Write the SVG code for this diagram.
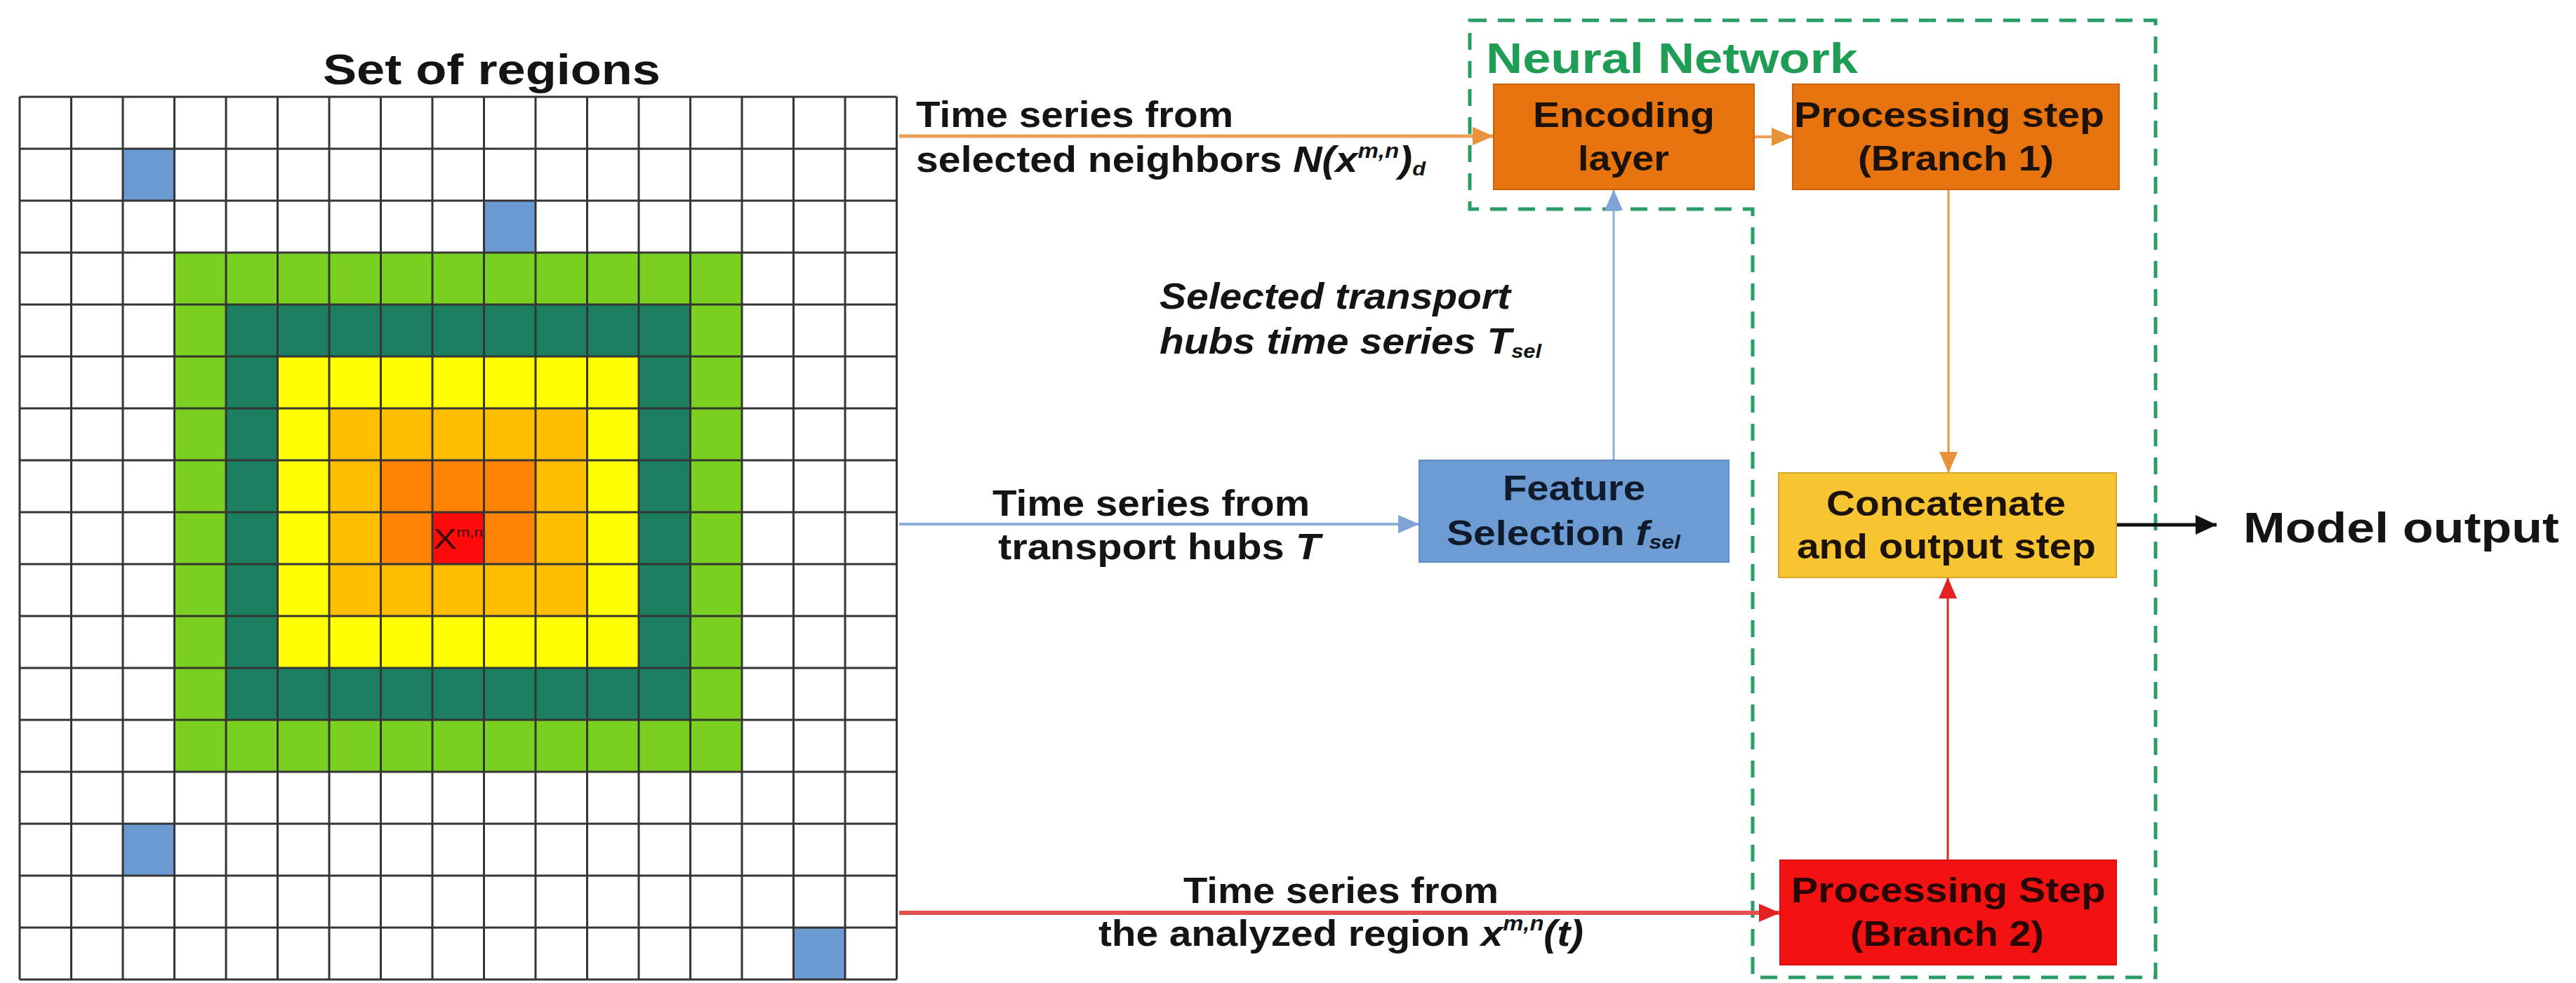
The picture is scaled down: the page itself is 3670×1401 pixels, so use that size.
<svg xmlns="http://www.w3.org/2000/svg" width="3670" height="1401" viewBox="0 0 3670 1401">
  <style>
    text { font-family: "Liberation Sans", Arial, sans-serif; font-weight: bold; fill: #141414; }
    .title { font-size: 62px; }
    .lbl { font-size: 52px; }
    .box-txt { font-size: 50px; fill: #1c1208; }
    .it { font-style: italic; }
    .sup { font-size: 30px; font-style: italic; }
    .sub { font-size: 28px; font-style: italic; }
    .cell-tag { font-size: 40px; font-weight: normal; fill: #3a0000; }
    .cell-tag-sup { font-size: 18px; }
    .cell-line { stroke: #353535; stroke-width: 3; fill: none; }
    .conn { fill: none; }
    .box { stroke-width: 2; }
  </style>
  <defs>
    <marker id="arrOrange" viewBox="0 0 30 26" refX="30" refY="13" markerWidth="30" markerHeight="26" markerUnits="userSpaceOnUse" orient="auto">
      <path d="M0,0 L30,13 L0,26 Z" fill="#E8923A"/>
    </marker>
    <marker id="arrBlue" viewBox="0 0 30 26" refX="30" refY="13" markerWidth="30" markerHeight="26" markerUnits="userSpaceOnUse" orient="auto">
      <path d="M0,0 L30,13 L0,26 Z" fill="#7FA3D6"/>
    </marker>
    <marker id="arrRed" viewBox="0 0 30 26" refX="30" refY="13" markerWidth="30" markerHeight="26" markerUnits="userSpaceOnUse" orient="auto">
      <path d="M0,0 L30,13 L0,26 Z" fill="#E52222"/>
    </marker>
    <marker id="arrBlack" viewBox="0 0 30 28" refX="30" refY="14" markerWidth="30" markerHeight="28" markerUnits="userSpaceOnUse" orient="auto">
      <path d="M0,0 L30,14 L0,28 Z" fill="#111111"/>
    </marker>
  </defs>

  <rect x="0" y="0" width="3670" height="1401" fill="#ffffff"/>

  <!-- 17 x 17 grid of regions with concentric neighbourhood rings -->
  <g id="set-of-regions">
    <text class="title" x="460" y="120" textLength="481" lengthAdjust="spacingAndGlyphs">Set of regions</text>
    <g id="rings">
      <rect x="248.5" y="360" width="808.5" height="740" fill="#7BD120"/>
      <rect x="322" y="434" width="661.5" height="592" fill="#1B7F5F"/>
      <rect x="395.5" y="508" width="514.5" height="444" fill="#FFFF00"/>
      <rect x="469" y="582" width="367.5" height="296" fill="#FFBE00"/>
      <rect x="542.5" y="656" width="220.5" height="148" fill="#FF8405"/>
      <rect x="616" y="730" width="73.5" height="74" fill="#FF0A0A"/>
    </g>
    <g id="transport-hubs" fill="#6C9BD3">
      <rect x="175" y="212" width="73.5" height="74"/>
      <rect x="689.5" y="286" width="73.5" height="74"/>
      <rect x="175" y="1174" width="73.5" height="74"/>
      <rect x="1130.5" y="1322" width="73.5" height="74"/>
    </g>
    <path class="cell-line" d="M28,138 V1396 M101.5,138 V1396 M175,138 V1396 M248.5,138 V1396 M322,138 V1396 M395.5,138 V1396 M469,138 V1396 M542.5,138 V1396 M616,138 V1396 M689.5,138 V1396 M763,138 V1396 M836.5,138 V1396 M910,138 V1396 M983.5,138 V1396 M1057,138 V1396 M1130.5,138 V1396 M1204,138 V1396 M1277.5,138 V1396"/>
    <path class="cell-line" d="M28,138 H1277.5 M28,212 H1277.5 M28,286 H1277.5 M28,360 H1277.5 M28,434 H1277.5 M28,508 H1277.5 M28,582 H1277.5 M28,656 H1277.5 M28,730 H1277.5 M28,804 H1277.5 M28,878 H1277.5 M28,952 H1277.5 M28,1026 H1277.5 M28,1100 H1277.5 M28,1174 H1277.5 M28,1248 H1277.5 M28,1322 H1277.5 M28,1396 H1277.5"/>
    <text class="cell-tag" x="617" y="782" textLength="71" lengthAdjust="spacingAndGlyphs">X<tspan class="cell-tag-sup" dy="-17">m,n</tspan></text>
  </g>

  <!-- neural network boundary -->
  <g id="neural-network">
    <path d="M2094,29 H3071 V1393 H2497 V298 H2094 Z" fill="none" stroke="#2A9D66" stroke-width="5" stroke-dasharray="24 16"/>
    <text class="title" x="2117" y="104" style="fill:#1F9D55" textLength="530" lengthAdjust="spacingAndGlyphs">Neural Network</text>
  </g>

  <!-- connectors -->
  <g id="connectors">
    <path class="conn" d="M1281,194 H2128" stroke="#EBA05A" stroke-width="5" marker-end="url(#arrOrange)"/>
    <path class="conn" d="M2499,195 H2554" stroke="#EBA05A" stroke-width="4" marker-end="url(#arrOrange)"/>
    <path class="conn" d="M2776,270 V674" stroke="#E8923A" stroke-width="3" marker-end="url(#arrOrange)"/>
    <path class="conn" d="M1281,747 H2022" stroke="#8CADDB" stroke-width="4" marker-end="url(#arrBlue)"/>
    <path class="conn" d="M2299,656 V270" stroke="#8CADDB" stroke-width="3" marker-end="url(#arrBlue)"/>
    <path class="conn" d="M1281,1301 H2536" stroke="#E65050" stroke-width="6" marker-end="url(#arrRed)"/>
    <path class="conn" d="M2775,1226 V823" stroke="#E52222" stroke-width="3" marker-end="url(#arrRed)"/>
    <path class="conn" d="M3015,748 H3158" stroke="#111111" stroke-width="5" marker-end="url(#arrBlack)"/>
  </g>

  <!-- connector labels -->
  <g id="connector-labels">
    <text class="lbl" x="1305" y="181" textLength="452" lengthAdjust="spacingAndGlyphs">Time series from</text>
    <text class="lbl" x="1305" y="245" textLength="726" lengthAdjust="spacingAndGlyphs">selected neighbors <tspan class="it">N(x</tspan><tspan class="sup" dy="-20">m,n</tspan><tspan class="it" dy="20">)</tspan><tspan class="sub" dy="5">d</tspan></text>

    <text class="lbl it" x="1652" y="440" textLength="500" lengthAdjust="spacingAndGlyphs">Selected transport</text>
    <text class="lbl it" x="1652" y="504" textLength="544" lengthAdjust="spacingAndGlyphs">hubs time series T<tspan class="sub" dy="6">sel</tspan></text>

    <text class="lbl" x="1414" y="735" textLength="452" lengthAdjust="spacingAndGlyphs">Time series from</text>
    <text class="lbl" x="1422" y="797" textLength="459" lengthAdjust="spacingAndGlyphs">transport hubs <tspan class="it">T</tspan></text>

    <text class="lbl" x="1686" y="1287" textLength="449" lengthAdjust="spacingAndGlyphs">Time series from</text>
    <text class="lbl" x="1565" y="1348" textLength="691" lengthAdjust="spacingAndGlyphs">the analyzed region <tspan class="it">x</tspan><tspan class="sup" dy="-22">m,n</tspan><tspan class="it" dy="22">(t)</tspan></text>
  </g>

  <g id="encoding-layer">
    <rect class="box" x="2128" y="120" width="371" height="150" fill="#E8740F" stroke="#C8640C"/>
    <text class="box-txt" x="2184" y="181" textLength="259" lengthAdjust="spacingAndGlyphs">Encoding</text>
    <text class="box-txt" x="2248" y="243" textLength="130" lengthAdjust="spacingAndGlyphs">layer</text>
  </g>

  <g id="processing-branch-1">
    <rect class="box" x="2554" y="120" width="465" height="150" fill="#E8740F" stroke="#C8640C"/>
    <text class="box-txt" x="2556" y="181" textLength="442" lengthAdjust="spacingAndGlyphs">Processing step</text>
    <text class="box-txt" x="2647" y="243" textLength="279" lengthAdjust="spacingAndGlyphs">(Branch 1)</text>
  </g>

  <g id="feature-selection">
    <rect class="box" x="2022" y="656" width="441" height="145" fill="#6D9BD3" stroke="#5F8CC4"/>
    <text class="box-txt" x="2141" y="713" style="fill:#0f1a2a" textLength="203" lengthAdjust="spacingAndGlyphs">Feature</text>
    <text class="box-txt" x="2061" y="777" style="fill:#0f1a2a" textLength="333" lengthAdjust="spacingAndGlyphs">Selection <tspan class="it">f</tspan><tspan class="sub" dy="5">sel</tspan></text>
  </g>

  <g id="concatenate-output">
    <rect class="box" x="2534" y="674" width="481" height="149" fill="#F7C531" stroke="#D9A82A"/>
    <text class="box-txt" x="2602" y="735" textLength="341" lengthAdjust="spacingAndGlyphs">Concatenate</text>
    <text class="box-txt" x="2560" y="796" textLength="426" lengthAdjust="spacingAndGlyphs">and output step</text>
  </g>

  <g id="processing-branch-2">
    <rect class="box" x="2536" y="1226" width="479" height="149" fill="#F21212" stroke="#D80E0E"/>
    <text class="box-txt" x="2552" y="1286" style="fill:#2a0606" textLength="448" lengthAdjust="spacingAndGlyphs">Processing Step</text>
    <text class="box-txt" x="2636" y="1348" style="fill:#2a0606" textLength="276" lengthAdjust="spacingAndGlyphs">(Branch 2)</text>
  </g>

  <g id="model-output">
    <text class="title" x="3196" y="773" textLength="450" lengthAdjust="spacingAndGlyphs">Model output</text>
  </g>
</svg>
